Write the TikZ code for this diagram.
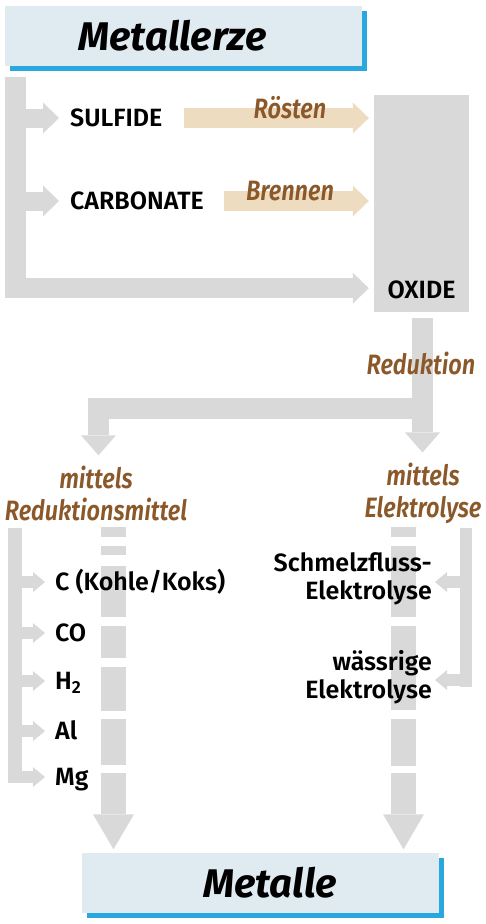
\documentclass[tikz,border=0pt]{standalone}
\usepackage{fontspec}
\setmainfont{Fira Sans}[BoldFont={Fira Sans SemiBold},BoldItalicFont={Fira Sans SemiBold Italic}]
\newfontfamily\headfont{Fira Sans}
\newfontfamily\procfont{Fira Sans SemiBold Italic}[FakeStretch=0.84]
\usepackage{tikz}
\usetikzlibrary{positioning,arrows.meta,calc,shadows}
\definecolor{arrgray}{RGB}{217,217,217}
\definecolor{procbeige}{RGB}{238,220,192}
\definecolor{labbrown}{RGB}{139,88,42}
\definecolor{boxblue}{RGB}{223,234,241}
\definecolor{shadeblue}{RGB}{41,168,224}

\begin{document}
\begin{tikzpicture}[x=1pt, y=-1pt,
  hd/.style={rectangle, fill=boxblue, inner sep=0pt, minimum width=357pt, minimum height=60pt,
             font=\headfont\bfseries\itshape\fontsize{40}{44}\selectfont,
             drop shadow={shadow xshift=5pt, shadow yshift=-5pt, fill=shadeblue, opacity=1}},
  it/.style={inner sep=0pt, anchor=west, text height=23pt, text depth=6pt,
             font=\bfseries\fontsize{25}{28}\selectfont},
  rit/.style={inner sep=0pt, anchor=east, align=right, font=\bfseries\fontsize{25}{28}\selectfont},
  pr/.style={inner sep=0pt, text=labbrown, align=center, font=\procfont\fontsize{28}{32}\selectfont},
  fat/.style={draw=arrgray, line width=#1, line cap=butt, line join=miter},
  tipM/.style={-{Triangle[length=16pt, width=31pt, line width=0pt]}},
  tipB/.style={-{Triangle[length=20pt, width=35pt, line width=0pt]}},
  tipS/.style={-{Triangle[length=12pt, width=20pt, line width=0pt]}},
  tipL/.style={-{Triangle[length=35pt, width=41pt, line width=0pt]}},
]
\useasboundingbox (0,0) rectangle (486,924);

% boxes
\node[hd] (erze)    at (183.5,36)  {\hspace*{-22pt}Metallerze};
\node[hd] (metalle) at (260,882.5) {\hspace*{20pt}Metalle};
\node[fill=arrgray, inner sep=0pt, minimum width=95pt, text height=203pt, text depth=14pt,
      font=\bfseries\fontsize{25}{28}\selectfont] (oxide) at (421.5,203.5) {OXIDE};

% ores
\node[it] (sulf) at (70,118) {SULFIDE};
\node[it] (carb) at (70,201) {CARBONATE};

\coordinate (trunk) at ($(erze.south west)+(10.5,11)$);
\draw[fat=20.5pt, tipM] (trunk) |- ($(oxide.south west)+(-5,-24)$);
\foreach \n in {sulf,carb}
  \draw[fat=19pt, tipM] (trunk |- \n) -- ($(\n.west)+(-11,0)$);
\draw[fat=20pt, draw=procbeige, tipM] ($(sulf.east)+(21,0)$) -- ($(oxide.west |- sulf)+(-5,0)$);
\draw[fat=20pt, draw=procbeige, tipM] ($(carb.east)+(20,0)$) -- ($(oxide.west |- carb)+(-5,0)$);
\node[pr] (roest) at (290,108) {Rösten};
\node[pr] (brenn) at (290,191) {Brennen};

% reduction
\node[pr] (rmit) at (96,493)  {mittels\\Reduktionsmittel};
\node[pr] (elek) at (423,493) {mittels\\Elektrolyse};
\coordinate (fork) at ($(oxide.south)+(1,96.5)$);
\draw[fat=21pt, tipB] ($(oxide.south)+(1,6)$) -- ($(fork |- elek.north)+(0,-10)$);
\draw[fat=21pt, tipB] (fork) -| ($(rmit.north)+(2.5,-10)$);
\node[pr] (red) at (421,363) {Reduktion};

% to metals
\coordinate (ldash) at (113.5,527);
\coordinate (rdash) at (403.5,527);
\draw[fat=25pt, tipL, dash pattern=on 10pt off 9pt on 9pt off 11pt on 51pt off 9pt on 32pt off 9pt
      on 44pt off 8pt on 46pt off 8pt on 60pt] (ldash) -- ($(ldash |- metalle.north)+(0,-3)$);
\draw[fat=25pt, tipL, dash pattern=on 10pt off 9pt on 71pt off 9pt on 84pt off 9pt on 47pt off 7pt
      on 60pt] (rdash) -- ($(rdash |- metalle.north)+(0,-3)$);

% agents
\node[it] (kohle) at (55,582) {C (Kohle/Koks)};
\node[it] (co)    at (55,633) {CO};
\node[it] (hyd)   at (55,681) {H\textsubscript{2}};
\node[it] (alu)   at (55,731) {Al};
\node[it] (mag)   at (55,777) {Mg};
\node[rit] (schm) at (432,579) {Schmelzfluss-\\Elektrolyse};
\node[rit] (wass) at (432,677) {wässrige\\Elektrolyse};

\coordinate (ltrunk) at (15,528);
\draw[fat=14pt] (ltrunk) -- ($(ltrunk |- mag)+(0,6)$);
\foreach \n in {kohle,co,hyd,alu,mag}
  \draw[fat=12pt, tipS] (ltrunk |- \n) -- ($(\n.west)+(-10,0)$);
\coordinate (rtrunk) at (466,528);
\draw[fat=12pt] (rtrunk) -- ($(rtrunk |- wass)+(0,10)$);
\foreach \n in {schm,wass}
  \draw[fat=12pt, tipS] ($(rtrunk |- \n)+(0,3)$) -- ($(\n.east)+(3,3)$);
\end{tikzpicture}
\end{document}
